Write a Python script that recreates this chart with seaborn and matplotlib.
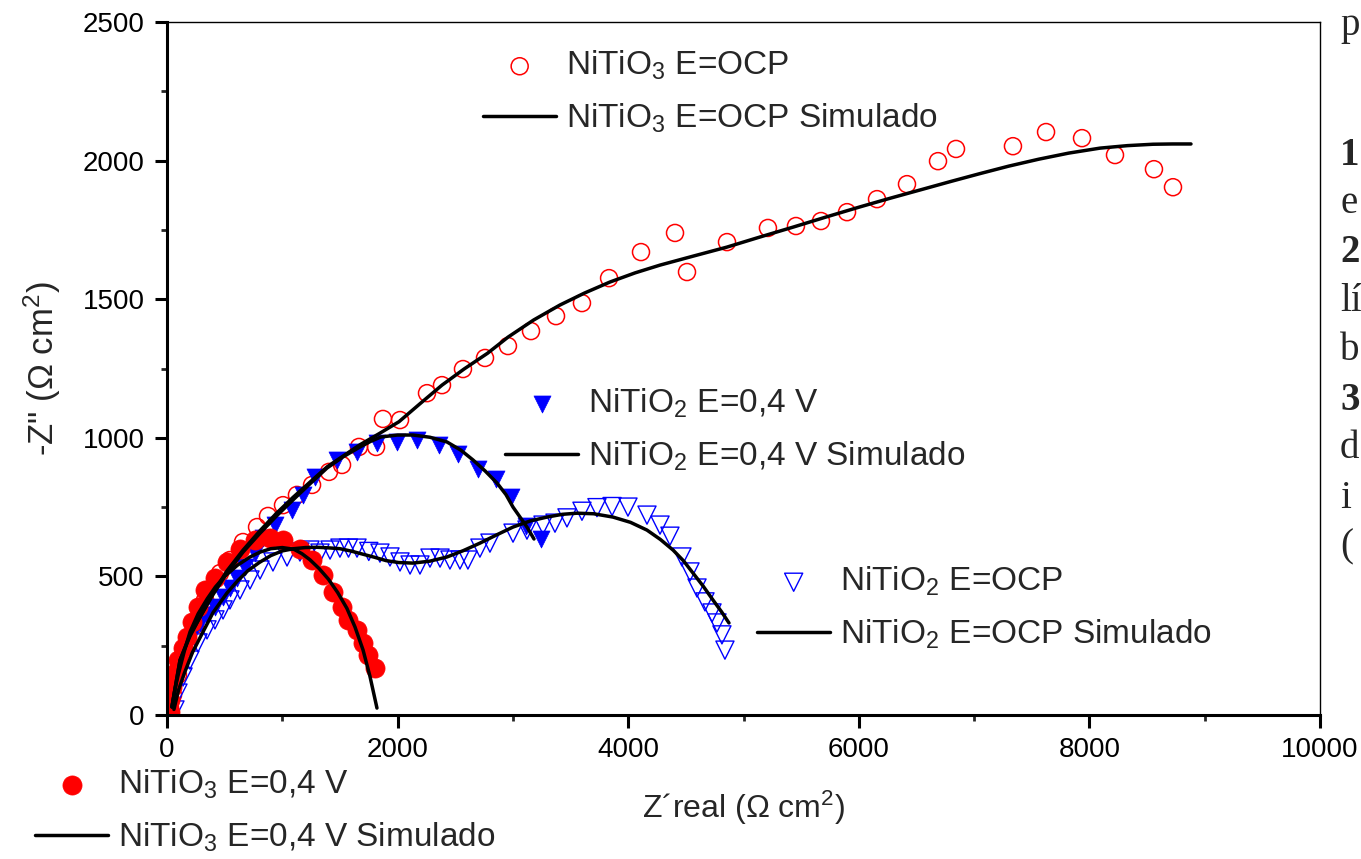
import matplotlib
matplotlib.use("Agg")
import matplotlib.pyplot as plt
import numpy as np
import pandas as pd
import seaborn as sns

# ---- Nyquist data (Z' real, -Z'' imaginary), ohm cm^2 ----
nitio3_ocp_x = [26, 52, 95, 156, 243, 330, 460, 546, 659, 781, 876, 1006, 1127, 1258,
                1405, 1518, 1665, 1813, 1873, 2021, 2255, 2385, 2567, 2758, 2957, 3157,
                3374, 3599, 3834, 4111, 4406, 4510, 4857, 5212, 5455, 5672, 5898, 6158,
                6418, 6687, 6843, 7337, 7624, 7936, 8222, 8560, 8725]
nitio3_ocp_y = [25, 72, 144, 234, 325, 415, 512, 559, 624, 678, 718, 757, 794, 830,
                877, 902, 967, 967, 1068, 1064, 1161, 1190, 1248, 1288, 1331, 1385,
                1439, 1486, 1576, 1670, 1739, 1598, 1706, 1757, 1764, 1782, 1814, 1861,
                1915, 1998, 2042, 2052, 2103, 2081, 2020, 1969, 1904]

nitio3_ocp_fit_x = [43, 80, 113, 200, 286, 400, 520, 660, 807, 950, 1093, 1240, 1388,
                    1530, 1674, 1840, 2012, 2200, 2385, 2576, 2780, 2957, 3180, 3408,
                    3620, 3842, 4060, 4276, 4560, 4857, 5140, 5430, 5720, 6010, 6270,
                    6531, 6800, 7050, 7300, 7560, 7820, 8092, 8330, 8552, 8720, 8881]
nitio3_ocp_fit_y = [29, 120, 198, 290, 353, 440, 520, 595, 665, 728, 785, 840, 895,
                    935, 975, 1015, 1058, 1125, 1190, 1248, 1305, 1363, 1425, 1479,
                    1522, 1562, 1595, 1623, 1655, 1688, 1724, 1760, 1797, 1833, 1864,
                    1894, 1925, 1953, 1980, 2005, 2027, 2045, 2054, 2059, 2060, 2060]

nitio3_04_x = [26, 26, 43, 69, 95, 139, 173, 217, 269, 330, 416, 520, 633, 763, 893,
               1006, 1150, 1258, 1353, 1440, 1518, 1570, 1648, 1700, 1743, 1804]
nitio3_04_y = [11, 54, 101, 151, 198, 242, 281, 335, 390, 451, 494, 552, 600, 632, 640,
               631, 600, 560, 505, 444, 390, 343, 307, 260, 216, 170]

nitio3_04_fit_x = [43, 70, 100, 150, 200, 270, 350, 420, 500, 610, 720, 810, 900, 1000,
                   1100, 1170, 1240, 1320, 1400, 1480, 1560, 1630, 1700, 1760, 1821]
nitio3_04_fit_y = [29, 95, 150, 230, 300, 365, 420, 462, 500, 540, 570, 588, 600, 604,
                   598, 582, 560, 528, 490, 442, 385, 318, 235, 140, 25]

nitio2_04_x = [9, 26, 52, 95, 139, 182, 226, 286, 347, 416, 486, 546, 607, 676, 763,
               833, 937, 1084, 1180, 1284, 1474, 1648, 1821, 1995, 2168, 2355, 2520,
               2693, 2853, 2984, 3114, 3244]
nitio2_04_y = [43, 90, 137, 173, 224, 260, 296, 332, 361, 390, 426, 458, 494, 534, 584,
               638, 685, 739, 794, 858, 920, 949, 981, 985, 992, 974, 941, 888, 851,
               786, 681, 634]

nitio2_04_fit_x = [43, 80, 113, 200, 286, 400, 520, 660, 807, 950, 1093, 1240, 1388,
                   1530, 1674, 1770, 1856, 2000, 2134, 2280, 2428, 2550, 2654, 2760,
                   2862, 2940, 3001, 3065, 3122, 3183]
nitio2_04_fit_y = [29, 120, 198, 285, 353, 435, 512, 588, 656, 718, 776, 834, 891,
                   932, 967, 988, 1003, 1010, 1010, 1002, 985, 955, 920, 880, 837, 795,
                   750, 712, 678, 635]

nitio2_ocp_x = [69, 95, 139, 199, 269, 347, 416, 486, 546, 633, 720, 807, 919, 1041,
                1153, 1240, 1327, 1414, 1500, 1574, 1648, 1750, 1847, 1934, 2021, 2108,
                2194, 2281, 2368, 2454, 2541, 2610, 2714, 2801, 3001, 3122, 3261, 3365,
                3469, 3599, 3729, 3860, 3998, 4163, 4276, 4362, 4466, 4536, 4597, 4666,
                4727, 4770, 4813, 4839]
nitio2_ocp_y = [18, 79, 137, 198, 260, 307, 343, 379, 415, 451, 487, 523, 552, 570,
                588, 595, 584, 595, 602, 602, 602, 590, 584, 570, 552, 541, 541, 566,
                566, 559, 559, 559, 602, 620, 656, 667, 685, 692, 711, 735, 748, 752,
                750, 721, 685, 645, 570, 516, 458, 408, 368, 332, 289, 234]

nitio2_ocp_fit_x = [60, 100, 150, 220, 300, 400, 520, 610, 700, 800, 900, 1000, 1100,
                    1200, 1300, 1400, 1500, 1600, 1700, 1800, 1900, 2010, 2134, 2280,
                    2428, 2570, 2714, 2860, 3001, 3150, 3296, 3430, 3556, 3700, 3868,
                    4020, 4163, 4280, 4389, 4480, 4562, 4650, 4735, 4810, 4874]
nitio2_ocp_fit_y = [20, 90, 150, 225, 290, 370, 440, 483, 520, 550, 575, 592, 600,
                    604, 605, 603, 600, 591, 580, 569, 557, 550, 548, 555, 570, 593,
                    620, 650, 678, 700, 714, 724, 728, 726, 714, 695, 667, 633, 595,
                    556, 512, 465, 415, 372, 332]

label_nitio3_ocp = "NiTiO$_3$ E=OCP"
label_nitio3_04 = "NiTiO$_3$ E=0,4 V"
label_nitio2_04 = "NiTiO$_2$ E=0,4 V"
label_nitio2_ocp = "NiTiO$_2$ E=OCP"
sim = " Simulado"

x_label = "Z\u00b4real (\u03a9 cm$^2$)"
y_label = "-Z\" (\u03a9 cm$^2$)"

# ---- style ----
sns.set_style("ticks")
plt.rcParams["font.family"] = ["Liberation Sans", "DejaVu Sans"]
plt.rcParams["mathtext.fontset"] = "custom"
plt.rcParams["mathtext.rm"] = "Liberation Sans"
plt.rcParams["mathtext.it"] = "Liberation Sans:italic"
plt.rcParams["mathtext.bf"] = "Liberation Sans:bold"

W, H = 1361, 859
fig = plt.figure(figsize=(W / 100, H / 100), dpi=100)
ax = fig.add_axes([167 / W, 1 - 715 / H, (1320 - 167) / W, (715 - 22) / H])

fit_kw = dict(color="black", linewidth=2.5, sort=False, estimator=None, ax=ax)

# measured points
sns.scatterplot(x=nitio3_ocp_x, y=nitio3_ocp_y, marker="o", s=150, fc="none",
                ec="#ff0000", linewidth=1.1, ax=ax)
h_n3ocp = ax.collections[-1]
sns.scatterplot(x=nitio2_ocp_x, y=nitio2_ocp_y, marker="v", s=170, fc="none",
                ec="#0000ff", linewidth=1.0, ax=ax)
h_n2ocp = ax.collections[-1]
sns.scatterplot(x=nitio2_04_x, y=nitio2_04_y, marker="v", s=150, color="#0000ff",
                ec="#0000ff", linewidth=0.5, ax=ax)
h_n204 = ax.collections[-1]
sns.scatterplot(x=nitio3_04_x, y=nitio3_04_y, marker="o", s=190, color="#ff0000",
                ec="#ff0000", linewidth=0.5, ax=ax)
h_n304 = ax.collections[-1]

# equivalent-circuit fits
sns.lineplot(x=nitio3_ocp_fit_x, y=nitio3_ocp_fit_y, **fit_kw)
l_n3ocp = ax.lines[-1]
sns.lineplot(x=nitio2_04_fit_x, y=nitio2_04_fit_y, **fit_kw)
l_n204 = ax.lines[-1]
sns.lineplot(x=nitio2_ocp_fit_x, y=nitio2_ocp_fit_y, **fit_kw)
l_n2ocp = ax.lines[-1]
sns.lineplot(x=nitio3_04_fit_x, y=nitio3_04_fit_y, **fit_kw)
l_n304 = ax.lines[-1]

if ax.get_legend() is not None:
    ax.get_legend().remove()

ax.set_xlim(0, 10000)
ax.set_ylim(0, 2500)
ax.set_xticks(np.arange(0, 10001, 2000))
ax.set_xticks(np.arange(1000, 10000, 2000), minor=True)
ax.set_yticks(np.arange(0, 2501, 500))
ax.set_yticks(np.arange(250, 2500, 500), minor=True)
ax.tick_params(axis="both", which="major", direction="out", length=9, width=2.2,
               labelsize=20, colors="black", pad=7)
ax.tick_params(axis="both", which="minor", direction="out", length=4.5, width=2.0)
ax.tick_params(top=False, right=False, which="both")
for side in ("left", "bottom"):
    ax.spines[side].set_linewidth(2.2)
for side in ("top", "right"):
    ax.spines[side].set_linewidth(1.0)
for sp in ax.spines.values():
    sp.set_color("black")

ax.set_xlabel(x_label, fontsize=23, labelpad=18)
ax.set_ylabel(y_label, fontsize=25, labelpad=14)

# legend blocks
leg_kw = dict(frameon=False, fontsize=24, handlelength=2.2, handletextpad=0.28,
              labelspacing=0.57, borderpad=0, borderaxespad=0, loc="upper left",
              scatterpoints=1)


def add_block(handles, labels, px, py):
    leg = fig.legend(handles, labels, bbox_to_anchor=(px / W, 1 - py / H), **leg_kw)
    return leg


add_block([h_n3ocp, l_n3ocp], [label_nitio3_ocp, label_nitio3_ocp + sim], 483, 49)
add_block([h_n204, l_n204], [label_nitio2_04, label_nitio2_04 + sim], 505, 387)
add_block([h_n2ocp, l_n2ocp], [label_nitio2_ocp, label_nitio2_ocp + sim], 757, 565)
add_block([h_n304, l_n304], [label_nitio3_04, label_nitio3_04 + sim], 35, 768)

# text running along the page beside the figure
side_text = [("p", 35, "normal"), ("1", 165, "bold"), ("e", 213, "normal"),
             ("2", 262, "bold"), ("l\u00ed", 311, "normal"), ("b", 360, "normal"),
             ("3", 410, "bold"), ("d", 458, "normal"), ("i", 508, "normal"),
             ("(", 556, "normal")]
for txt, base, weight in side_text:
    fig.text(1340 / W, 1 - base / H, txt, fontsize=28, fontweight=weight,
             family=["Liberation Serif", "DejaVu Serif"], va="baseline", ha="left")

fig.savefig("out.png", dpi=100)
